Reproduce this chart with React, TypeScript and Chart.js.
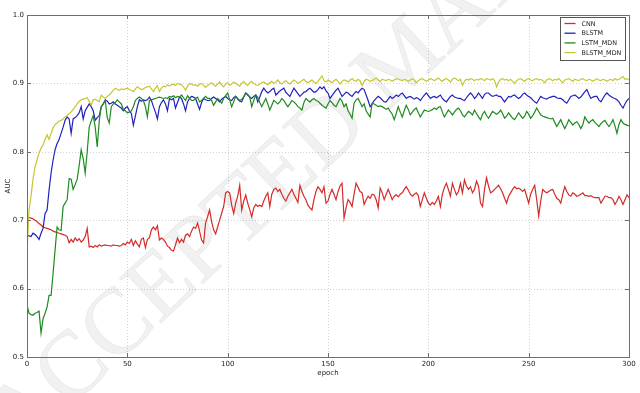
import React, { useEffect, useRef } from "react";
import { Chart, registerables } from "chart.js";
Chart.register(...registerables);

const seriesNames = ["CNN", "BLSTM", "LSTM_MDN", "BLSTM_MDN"];
const xTicks = [0, 50, 100, 150, 200, 250, 300];
const yTicks = [0.5, 0.6, 0.7, 0.8, 0.9, 1.0];

const cnn = [
  0.705, 0.704, 0.703, 0.702, 0.700, 0.698, 0.695, 0.693, 0.690, 0.689,
  0.688, 0.687, 0.686, 0.684, 0.683, 0.682, 0.681, 0.680, 0.679, 0.678,
  0.676, 0.667, 0.672, 0.668, 0.674, 0.670, 0.673, 0.668, 0.671, 0.676,
  0.688, 0.661, 0.662, 0.660, 0.663, 0.661, 0.664, 0.662, 0.663, 0.664,
  0.663, 0.663, 0.662, 0.664, 0.663, 0.663, 0.662, 0.663, 0.666, 0.664,
  0.668, 0.666, 0.672, 0.663, 0.670, 0.665, 0.661, 0.672, 0.674, 0.660,
  0.672, 0.674, 0.686, 0.690, 0.686, 0.692, 0.671, 0.674, 0.672, 0.668,
  0.662, 0.660, 0.656, 0.655, 0.664, 0.674, 0.667, 0.672, 0.668, 0.678,
  0.680, 0.676, 0.684, 0.690, 0.688, 0.696, 0.684, 0.671, 0.667, 0.696,
  0.705, 0.715, 0.698, 0.686, 0.680, 0.690, 0.700, 0.710, 0.720, 0.740,
  0.742, 0.740, 0.722, 0.710, 0.725, 0.735, 0.751, 0.715, 0.728, 0.737,
  0.725, 0.715, 0.705, 0.718, 0.723, 0.720, 0.722, 0.720, 0.728, 0.735,
  0.740, 0.720, 0.738, 0.745, 0.747, 0.742, 0.745, 0.738, 0.732, 0.728,
  0.735, 0.740, 0.745, 0.738, 0.732, 0.726, 0.751, 0.742, 0.735, 0.730,
  0.722, 0.718, 0.715, 0.730, 0.742, 0.749, 0.745, 0.740, 0.749, 0.725,
  0.728, 0.738, 0.745, 0.738, 0.730, 0.742, 0.750, 0.754, 0.703, 0.718,
  0.730, 0.726, 0.720, 0.738, 0.754, 0.748, 0.742, 0.740, 0.723, 0.730,
  0.735, 0.732, 0.738, 0.737, 0.730, 0.718, 0.747, 0.740, 0.730, 0.738,
  0.745, 0.738, 0.730, 0.735, 0.737, 0.734, 0.738, 0.740, 0.745, 0.749,
  0.744, 0.738, 0.735, 0.738, 0.740, 0.736, 0.720, 0.730, 0.740, 0.732,
  0.725, 0.722, 0.726, 0.723, 0.728, 0.735, 0.720, 0.738, 0.748, 0.754,
  0.745, 0.735, 0.754, 0.745, 0.737, 0.742, 0.754, 0.740, 0.759, 0.750,
  0.745, 0.749, 0.740, 0.745, 0.757, 0.750, 0.725, 0.720, 0.745, 0.762,
  0.750, 0.740, 0.742, 0.745, 0.748, 0.751, 0.746, 0.740, 0.732, 0.725,
  0.735, 0.740, 0.745, 0.749, 0.746, 0.747, 0.745, 0.742, 0.745, 0.735,
  0.725, 0.738, 0.745, 0.751, 0.730, 0.706, 0.728, 0.745, 0.742, 0.740,
  0.742, 0.744, 0.745, 0.738, 0.732, 0.730, 0.725, 0.738, 0.749, 0.742,
  0.737, 0.735, 0.740, 0.738, 0.735, 0.736, 0.738, 0.740, 0.736, 0.736,
  0.735, 0.736, 0.734, 0.733, 0.733, 0.733, 0.725, 0.730, 0.735, 0.735,
  0.733, 0.733, 0.730, 0.723, 0.728, 0.735, 0.730, 0.723, 0.730, 0.737,
  0.733,
];

const blstm = [
  0.678, 0.677, 0.676, 0.681, 0.679, 0.676, 0.672, 0.681, 0.688, 0.710,
  0.715, 0.744, 0.769, 0.788, 0.803, 0.812, 0.818, 0.827, 0.836, 0.846,
  0.851, 0.848, 0.827, 0.848, 0.850, 0.853, 0.857, 0.866, 0.848, 0.860,
  0.865, 0.870, 0.866, 0.860, 0.846, 0.850, 0.853, 0.866, 0.870, 0.876,
  0.874, 0.870, 0.871, 0.873, 0.870, 0.868, 0.866, 0.864, 0.860, 0.864,
  0.866, 0.860, 0.856, 0.839, 0.852, 0.866, 0.876, 0.874, 0.876, 0.875,
  0.876, 0.880, 0.875, 0.866, 0.858, 0.848, 0.866, 0.872, 0.876, 0.870,
  0.860, 0.878, 0.876, 0.878, 0.864, 0.872, 0.880, 0.878, 0.870, 0.860,
  0.873, 0.878, 0.881, 0.880, 0.878, 0.870, 0.862, 0.872, 0.878, 0.876,
  0.875, 0.875, 0.878, 0.880, 0.878, 0.876, 0.873, 0.877, 0.879, 0.881,
  0.878, 0.876, 0.875, 0.879, 0.881, 0.877, 0.874, 0.873, 0.880, 0.886,
  0.883, 0.880, 0.878, 0.881, 0.883, 0.873, 0.880, 0.888, 0.893, 0.889,
  0.886, 0.888, 0.891, 0.893, 0.883, 0.886, 0.889, 0.891, 0.893, 0.887,
  0.884, 0.881, 0.887, 0.893, 0.889, 0.885, 0.881, 0.884, 0.887, 0.888,
  0.891, 0.893, 0.890, 0.887, 0.888, 0.891, 0.895, 0.892, 0.895, 0.889,
  0.886, 0.878, 0.882, 0.886, 0.890, 0.893, 0.887, 0.881, 0.884, 0.887,
  0.886, 0.883, 0.881, 0.885, 0.888, 0.886, 0.890, 0.893, 0.891, 0.883,
  0.875, 0.866, 0.870, 0.875, 0.878, 0.881, 0.879, 0.876, 0.873, 0.873,
  0.877, 0.881, 0.878, 0.880, 0.883, 0.881, 0.884, 0.886, 0.882, 0.878,
  0.880, 0.881, 0.879, 0.877, 0.879, 0.878, 0.875, 0.879, 0.883, 0.886,
  0.882, 0.878, 0.880, 0.881, 0.879, 0.881, 0.883, 0.878, 0.875, 0.873,
  0.877, 0.881, 0.883, 0.880, 0.879, 0.878, 0.878, 0.876, 0.875, 0.879,
  0.883, 0.886, 0.883, 0.878, 0.881, 0.886, 0.882, 0.878, 0.884, 0.886,
  0.886, 0.883, 0.881, 0.882, 0.883, 0.881, 0.881, 0.877, 0.873, 0.877,
  0.881, 0.880, 0.882, 0.883, 0.880, 0.878, 0.880, 0.884, 0.886, 0.883,
  0.881, 0.879, 0.876, 0.873, 0.871, 0.876, 0.881, 0.879, 0.878, 0.877,
  0.879, 0.880, 0.881, 0.881, 0.879, 0.878, 0.878, 0.876, 0.873, 0.871,
  0.876, 0.881, 0.882, 0.883, 0.881, 0.878, 0.880, 0.884, 0.888, 0.891,
  0.884, 0.878, 0.880, 0.881, 0.881, 0.876, 0.873, 0.878, 0.883, 0.886,
  0.883, 0.881, 0.879, 0.878, 0.876, 0.873, 0.868, 0.864, 0.870, 0.875,
  0.878,
];

const lstmMdn = [
  0.576, 0.564, 0.562, 0.561, 0.564, 0.565, 0.567, 0.535, 0.556, 0.564,
  0.573, 0.590, 0.590, 0.622, 0.657, 0.690, 0.686, 0.685, 0.720, 0.725,
  0.730, 0.761, 0.760, 0.745, 0.752, 0.760, 0.780, 0.803, 0.790, 0.769,
  0.800, 0.836, 0.845, 0.853, 0.836, 0.807, 0.845, 0.866, 0.870, 0.875,
  0.850, 0.842, 0.866, 0.870, 0.872, 0.876, 0.873, 0.870, 0.862, 0.860,
  0.857, 0.858, 0.860, 0.866, 0.875, 0.878, 0.880, 0.878, 0.875, 0.866,
  0.851, 0.875, 0.876, 0.877, 0.878, 0.879, 0.880, 0.879, 0.878, 0.879,
  0.878, 0.881, 0.880, 0.882, 0.879, 0.881, 0.880, 0.883, 0.879, 0.875,
  0.882, 0.878, 0.875, 0.875, 0.878, 0.880, 0.873, 0.875, 0.878, 0.881,
  0.878, 0.878, 0.875, 0.868, 0.873, 0.878, 0.875, 0.871, 0.878, 0.882,
  0.886, 0.876, 0.866, 0.873, 0.881, 0.878, 0.875, 0.877, 0.880, 0.886,
  0.884, 0.880, 0.866, 0.875, 0.883, 0.880, 0.872, 0.866, 0.872, 0.878,
  0.870, 0.861, 0.868, 0.875, 0.873, 0.870, 0.873, 0.878, 0.875, 0.870,
  0.866, 0.870, 0.875, 0.873, 0.870, 0.866, 0.864, 0.861, 0.872, 0.878,
  0.875, 0.873, 0.876, 0.878, 0.875, 0.874, 0.871, 0.868, 0.866, 0.864,
  0.870, 0.875, 0.872, 0.868, 0.866, 0.872, 0.878, 0.874, 0.866, 0.870,
  0.860, 0.855, 0.849, 0.871, 0.876, 0.878, 0.872, 0.866, 0.870, 0.860,
  0.855, 0.851, 0.871, 0.870, 0.868, 0.866, 0.867, 0.866, 0.864, 0.862,
  0.864, 0.859, 0.855, 0.847, 0.856, 0.866, 0.858, 0.851, 0.860, 0.868,
  0.862, 0.854, 0.858, 0.862, 0.864, 0.857, 0.851, 0.856, 0.861, 0.860,
  0.859, 0.860, 0.862, 0.864, 0.862, 0.865, 0.866, 0.858, 0.851, 0.856,
  0.861, 0.858, 0.854, 0.858, 0.862, 0.864, 0.860, 0.854, 0.851, 0.855,
  0.859, 0.857, 0.854, 0.861, 0.856, 0.851, 0.847, 0.855, 0.859, 0.853,
  0.849, 0.854, 0.859, 0.857, 0.855, 0.857, 0.861, 0.856, 0.849, 0.852,
  0.857, 0.853, 0.849, 0.847, 0.852, 0.857, 0.853, 0.849, 0.852, 0.859,
  0.855, 0.849, 0.853, 0.858, 0.864, 0.859, 0.854, 0.852, 0.851, 0.850,
  0.849, 0.848, 0.849, 0.843, 0.837, 0.842, 0.847, 0.840, 0.834, 0.840,
  0.847, 0.843, 0.839, 0.842, 0.844, 0.840, 0.834, 0.840, 0.851, 0.846,
  0.842, 0.845, 0.847, 0.843, 0.840, 0.837, 0.841, 0.844, 0.846, 0.841,
  0.837, 0.841, 0.847, 0.838, 0.827, 0.840, 0.847, 0.842, 0.840, 0.839,
  0.838,
];

const blstmMdn = [
  0.652, 0.715, 0.735, 0.760, 0.778, 0.788, 0.798, 0.805, 0.810, 0.818,
  0.825, 0.818, 0.827, 0.835, 0.840, 0.842, 0.845, 0.846, 0.848, 0.851,
  0.853, 0.856, 0.858, 0.862, 0.866, 0.870, 0.874, 0.876, 0.877, 0.878,
  0.879, 0.874, 0.868, 0.876, 0.877, 0.875, 0.873, 0.883, 0.880, 0.878,
  0.881, 0.883, 0.886, 0.890, 0.893, 0.891, 0.890, 0.892, 0.891, 0.892,
  0.893, 0.891, 0.890, 0.888, 0.892, 0.895, 0.893, 0.891, 0.892, 0.894,
  0.895, 0.896, 0.892, 0.888, 0.893, 0.897, 0.888, 0.893, 0.896, 0.895,
  0.898, 0.896, 0.898, 0.899, 0.897, 0.900, 0.899, 0.898, 0.895, 0.890,
  0.896, 0.900, 0.899, 0.897, 0.898, 0.896, 0.899, 0.900, 0.897, 0.894,
  0.897, 0.899, 0.901, 0.898, 0.896, 0.899, 0.902, 0.898, 0.895, 0.899,
  0.901, 0.897, 0.899, 0.902, 0.900, 0.898, 0.896, 0.900, 0.903, 0.899,
  0.897, 0.901, 0.903, 0.900, 0.898, 0.897, 0.899, 0.901, 0.902, 0.900,
  0.898, 0.901, 0.903, 0.900, 0.902, 0.905, 0.901, 0.899, 0.902, 0.904,
  0.901, 0.899, 0.902, 0.905, 0.903, 0.900, 0.902, 0.904, 0.906, 0.903,
  0.901, 0.903, 0.905, 0.902, 0.900, 0.903, 0.907, 0.911, 0.904, 0.902,
  0.905, 0.903, 0.901, 0.904, 0.906, 0.903, 0.899, 0.903, 0.905, 0.904,
  0.902, 0.905, 0.907, 0.904, 0.903, 0.906, 0.904, 0.897, 0.903, 0.906,
  0.905, 0.903, 0.904, 0.906, 0.908, 0.905, 0.903, 0.906, 0.905, 0.904,
  0.906, 0.905, 0.903, 0.905, 0.907, 0.906, 0.905, 0.904, 0.906, 0.905,
  0.903, 0.905, 0.907, 0.905, 0.901, 0.904, 0.906, 0.907, 0.905, 0.903,
  0.905, 0.907, 0.906, 0.904, 0.906, 0.908, 0.905, 0.903, 0.906, 0.907,
  0.905, 0.902, 0.906, 0.908, 0.906, 0.904, 0.906, 0.897, 0.903, 0.906,
  0.905, 0.907, 0.906, 0.904, 0.906, 0.905, 0.907, 0.906, 0.904, 0.907,
  0.906, 0.905, 0.907, 0.904, 0.895, 0.902, 0.906, 0.907, 0.905, 0.906,
  0.904, 0.906, 0.903, 0.900, 0.904, 0.906, 0.907, 0.905, 0.903, 0.906,
  0.907, 0.905, 0.904, 0.906, 0.907, 0.905, 0.906, 0.904, 0.901, 0.905,
  0.907, 0.906, 0.904, 0.906, 0.905, 0.907, 0.904, 0.901, 0.905, 0.906,
  0.907, 0.905, 0.903, 0.906, 0.905, 0.904, 0.906, 0.907, 0.905, 0.904,
  0.906, 0.905, 0.903, 0.905, 0.907, 0.905, 0.904, 0.906, 0.905, 0.903,
  0.905, 0.906, 0.904, 0.907, 0.905, 0.906, 0.908, 0.910, 0.906, 0.907,
  0.905,
];

const seriesValues = [cnn, blstm, lstmMdn, blstmMdn];
const seriesColors = ["#d42a2a", "#2222bb", "#1f8a1f", "#c6c632"];
const watermarkText = "ACCEPTED MANUSCRIPT";

const FONT = "'DejaVu Sans', sans-serif";

const framePlugin = {
  id: "framePlugin",
  beforeDatasetsDraw(chart: any) {
    const { ctx, chartArea } = chart;
    const { left, right, top, bottom } = chartArea;
    const xs = chart.scales.x;
    const ys = chart.scales.y;
    ctx.save();
    // dotted grid
    ctx.strokeStyle = "#d2d2d2";
    ctx.lineWidth = 1;
    ctx.setLineDash([1, 2]);
    xTicks.forEach((v) => {
      const px = Math.round(xs.getPixelForValue(v)) + 0.5;
      ctx.beginPath();
      ctx.moveTo(px, top);
      ctx.lineTo(px, bottom);
      ctx.stroke();
    });
    yTicks.forEach((v) => {
      const py = Math.round(ys.getPixelForValue(v)) + 0.5;
      ctx.beginPath();
      ctx.moveTo(left, py);
      ctx.lineTo(right, py);
      ctx.stroke();
    });
    ctx.setLineDash([]);
    // watermark
    ctx.save();
    ctx.translate(19, 455);
    ctx.rotate(-0.75);
    ctx.font = "93px 'Liberation Serif', 'DejaVu Serif', serif";
    ctx.textBaseline = "alphabetic";
    ctx.fillStyle = "rgba(0,0,0,0.055)";
    ctx.fillText(watermarkText, 0, 0);
    ctx.strokeStyle = "rgba(0,0,0,0.05)";
    ctx.lineWidth = 1.2;
    ctx.strokeText(watermarkText, 0, 0);
    ctx.restore();
    ctx.restore();
  },
  afterDatasetsDraw(chart: any) {
    const { ctx, chartArea } = chart;
    const { left, right, top, bottom } = chartArea;
    const xs = chart.scales.x;
    const ys = chart.scales.y;
    ctx.save();
    ctx.setLineDash([]);
    ctx.strokeStyle = "#6e6e6e";
    ctx.lineWidth = 1;
    ctx.strokeRect(Math.round(left) + 0.5, Math.round(top) + 0.5, Math.round(right - left), Math.round(bottom - top));
    // inward ticks
    const tl = 4;
    xTicks.forEach((v) => {
      const px = Math.round(xs.getPixelForValue(v)) + 0.5;
      ctx.beginPath();
      ctx.moveTo(px, bottom);
      ctx.lineTo(px, bottom - tl);
      ctx.moveTo(px, top);
      ctx.lineTo(px, top + tl);
      ctx.stroke();
    });
    yTicks.forEach((v) => {
      const py = Math.round(ys.getPixelForValue(v)) + 0.5;
      ctx.beginPath();
      ctx.moveTo(left, py);
      ctx.lineTo(left + tl, py);
      ctx.moveTo(right, py);
      ctx.lineTo(right - tl, py);
      ctx.stroke();
    });
    // legend
    const bx = 560.5, by = 17.5, bw = 65, bh = 43;
    ctx.fillStyle = "#ffffff";
    ctx.fillRect(bx, by, bw, bh);
    ctx.strokeStyle = "#555555";
    ctx.strokeRect(bx, by, bw, bh);
    ctx.font = `6.4px ${FONT}`;
    ctx.textBaseline = "middle";
    ctx.textAlign = "left";
    chart.data.datasets.forEach((ds: any, i: number) => {
      const yy = by + 6 + i * 9.7;
      ctx.strokeStyle = ds.borderColor;
      ctx.lineWidth = 1.3;
      ctx.beginPath();
      ctx.moveTo(bx + 4, yy);
      ctx.lineTo(bx + 15, yy);
      ctx.stroke();
      ctx.fillStyle = "#222222";
      ctx.fillText(ds.label, bx + 21, yy + 0.5);
    });
    ctx.restore();
  },
};

export default function App() {
  const ref = useRef<HTMLCanvasElement | null>(null);
  useEffect(() => {
    if (!ref.current) return;
    const epochs = cnn.map((_, i) => i);
    const chart = new Chart(ref.current, {
      type: "line",
      data: {
        datasets: seriesNames.map((name, i) => ({
          label: name,
          data: epochs.map((e, j) => ({ x: e, y: seriesValues[i][j] })),
          borderColor: seriesColors[i],
          backgroundColor: seriesColors[i],
          borderWidth: 1.2,
          pointRadius: 0,
          tension: 0,
          fill: false,
          order: seriesNames.length - i,
        })),
      },
      options: {
        animation: false,
        responsive: false,
        maintainAspectRatio: false,
        events: [],
        layout: { padding: { top: 15, right: 11, left: 0, bottom: 0 } },
        plugins: { legend: { display: false }, tooltip: { enabled: false } },
        scales: {
          x: {
            type: "linear",
            min: 0,
            max: 300,
            afterBuildTicks: (s: any) => {
              s.ticks = xTicks.map((v) => ({ value: v }));
            },
            afterFit: (s: any) => {
              s.height = 36;
            },
            grid: { display: false, drawTicks: false },
            border: { display: false },
            ticks: {
              font: { family: FONT, size: 7 },
              color: "#222",
              padding: 3,
              maxRotation: 0,
              autoSkip: false,
              callback: (v: any) => String(v),
            },
            title: {
              display: true,
              text: "epoch",
              font: { family: FONT, size: 7 },
              color: "#222",
              padding: { top: 16, bottom: 16 },
            },
          },
          y: {
            min: 0.5,
            max: 1.0,
            afterBuildTicks: (s: any) => {
              s.ticks = yTicks.map((v) => ({ value: v }));
            },
            afterFit: (s: any) => {
              s.width = 27;
            },
            grid: { display: false, drawTicks: false },
            border: { display: false },
            ticks: {
              font: { family: FONT, size: 7 },
              color: "#222",
              padding: 3,
              autoSkip: false,
              callback: (v: any) => Number(v).toFixed(1),
            },
            title: {
              display: true,
              text: "AUC",
              font: { family: FONT, size: 7 },
              color: "#222",
              padding: { top: 4, bottom: 4 },
            },
          },
        },
      },
      plugins: [framePlugin],
    });
    return () => chart.destroy();
  }, []);
  return (
    <div style={{ position: "fixed", left: 0, top: 0, width: 640, height: 393, background: "#fff" }}>
      <canvas ref={ref} width={640} height={393} style={{ display: "block", width: 640, height: 393 }} />
    </div>
  );
}
